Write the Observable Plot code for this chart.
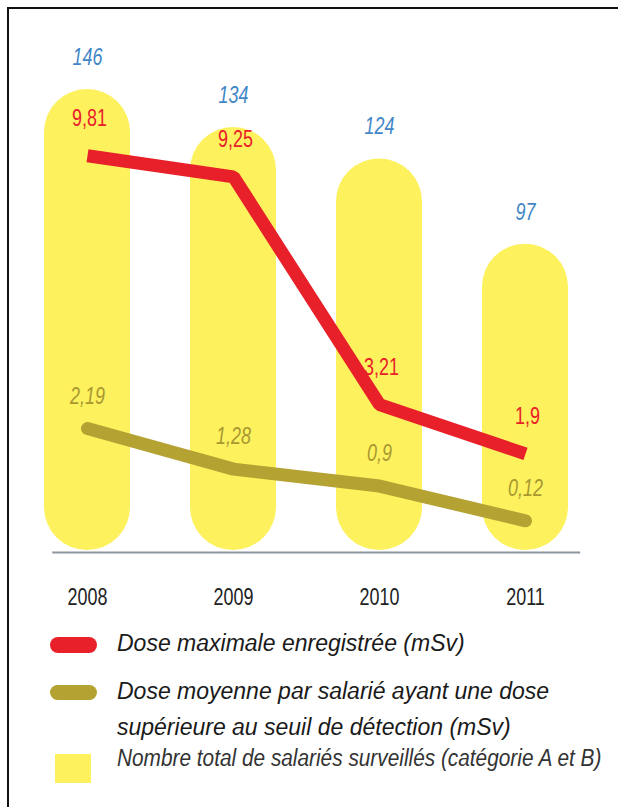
<!DOCTYPE html>
<html>
<head>
<meta charset="utf-8">
<script src="https://cdn.jsdelivr.net/npm/d3@7"></script>
<script src="https://cdn.jsdelivr.net/npm/@observablehq/plot@0.6"></script>
<style>
  html, body { margin: 0; padding: 0; background: #fff; }
  #page { position: relative; width: 618px; height: 807px; overflow: hidden; }
  #frame { position: absolute; left: 7px; top: 7px; right: 0; bottom: 0;
           border-top: 2px solid #111; border-left: 2px solid #111; }
  #chart { position: absolute; left: 0; top: 0; }
  .leg { position: absolute; left: 0; top: 0; font-family: "Liberation Sans", Arial, sans-serif; font-style: italic; color: #1a1a1a; }
  .row { position: absolute; left: 117px; font-size: 23px; line-height: 27.6px; white-space: nowrap; transform-origin: 0 0; }
  .sw { position: absolute; }
</style>
</head>
<body>
<div id="page">
  <div id="frame"></div>
  <div id="chart"></div>
  <div class="leg" id="legend"></div>
</div>
<script>
// ---- data ----
const years = ["2008", "2009", "2010", "2011"];
const salaries = [146, 134, 124, 97];           // Nombre total de salariés surveillés
const doseMax = [9.81, 9.25, 3.21, 1.9];        // Dose maximale enregistrée (mSv)
const doseMoy = [2.19, 1.28, 0.9, 0.12];        // Dose moyenne (mSv)
const legendLabels = [
  "Dose maximale enregistrée (mSv)",
  "Dose moyenne par salarié ayant une dose<br>supérieure au seuil de détection (mSv)",
  "Nombre total de salariés surveillés (catégorie A et B)"
];

// ---- colours ----
const cYellow = "#fdf15e";
const cRed = "#e8202a";
const cOlive = "#b4a233";
const cOliveText = "#a8982f";
const cBlue = "#4287c7";

const data = years.map((year, i) => ({
  year, salaries: salaries[i], doseMax: doseMax[i], doseMoy: doseMoy[i]
}));

// secondary (dose) scales mapped onto the primary (salariés) scale
const maxToPrimary = d3.scaleLinear().domain([0, 10]).range([7.9, 127.3]);
const moyToPrimary = d3.scaleLinear().domain([0, 2.5]).range([7.7, 43.0]);
const fr = v => String(v).replace(".", ",");

const font = '"Liberation Sans", Arial, sans-serif';

const chart = Plot.plot({
  width: 618,
  height: 615,
  marginTop: 89,
  marginBottom: 65,
  marginLeft: 28.3,
  marginRight: 33.8,
  style: { fontFamily: font, fontSize: "23px", color: "#222", background: "transparent" },
  x: { domain: years, paddingInner: 0.414, paddingOuter: 0.1, tickSize: 0, tickPadding: 38, label: null },
  y: { domain: [0, 146], axis: null },
  marks: [
    Plot.barY(data, { x: "year", y: "salaries", fill: cYellow, rx: 43 }),
    Plot.ruleY([0], { stroke: "#8d96a0", strokeWidth: 2, dy: 2, insetLeft: 24, insetRight: 4 }),
    Plot.line(data, { x: "year", y: d => moyToPrimary(d.doseMoy), stroke: cOlive, strokeWidth: 13,
      strokeLinecap: "round", strokeLinejoin: "round" }),
    Plot.line(data, { x: "year", y: d => maxToPrimary(d.doseMax), stroke: cRed, strokeWidth: 13,
      strokeLinecap: "butt", strokeLinejoin: "miter" }),
    Plot.text(data, { x: "year", y: "salaries", text: d => fr(d.salaries), dy: -32,
      fill: cBlue, fontStyle: "italic", fontSize: 23 }),
    Plot.text(data, { x: "year", y: d => maxToPrimary(d.doseMax), text: d => fr(d.doseMax), dy: -37, dx: 2,
      fill: cRed, fontSize: 23 }),
    Plot.text(data, { x: "year", y: d => moyToPrimary(d.doseMoy), text: d => fr(d.doseMoy), dy: -32,
      fill: cOliveText, fontStyle: "italic", fontSize: 23 })
  ]
});
document.getElementById("chart").appendChild(chart);

// condensed look: squeeze the chart's texts horizontally
chart.querySelectorAll("text").forEach(t => {
  const w = t.getComputedTextLength();
  if (w > 0) {
    t.setAttribute("textLength", (w * 0.78).toFixed(1));
    t.setAttribute("lengthAdjust", "spacingAndGlyphs");
  }
});

// ---- legend (HTML, below the plot) ----
const legend = document.getElementById("legend");
legend.innerHTML = `
  <div class="sw" style="left:50px;top:637px;width:47px;height:16px;border-radius:8px;background:${cRed}"></div>
  <div class="row" style="top:630px">${legendLabels[0]}</div>
  <div class="sw" style="left:50px;top:685px;width:47px;height:15px;border-radius:8px;background:${cOlive}"></div>
  <div class="row" style="top:673px;line-height:36px">${legendLabels[1]}</div>
  <div class="sw" style="left:55px;top:754px;width:36px;height:29px;background:${cYellow}"></div>
  <div class="row" style="top:745px;font-size:23px;line-height:27.6px;color:#333;transform:scaleX(0.905)">${legendLabels[2]}</div>
`;
</script>
</body>
</html>
